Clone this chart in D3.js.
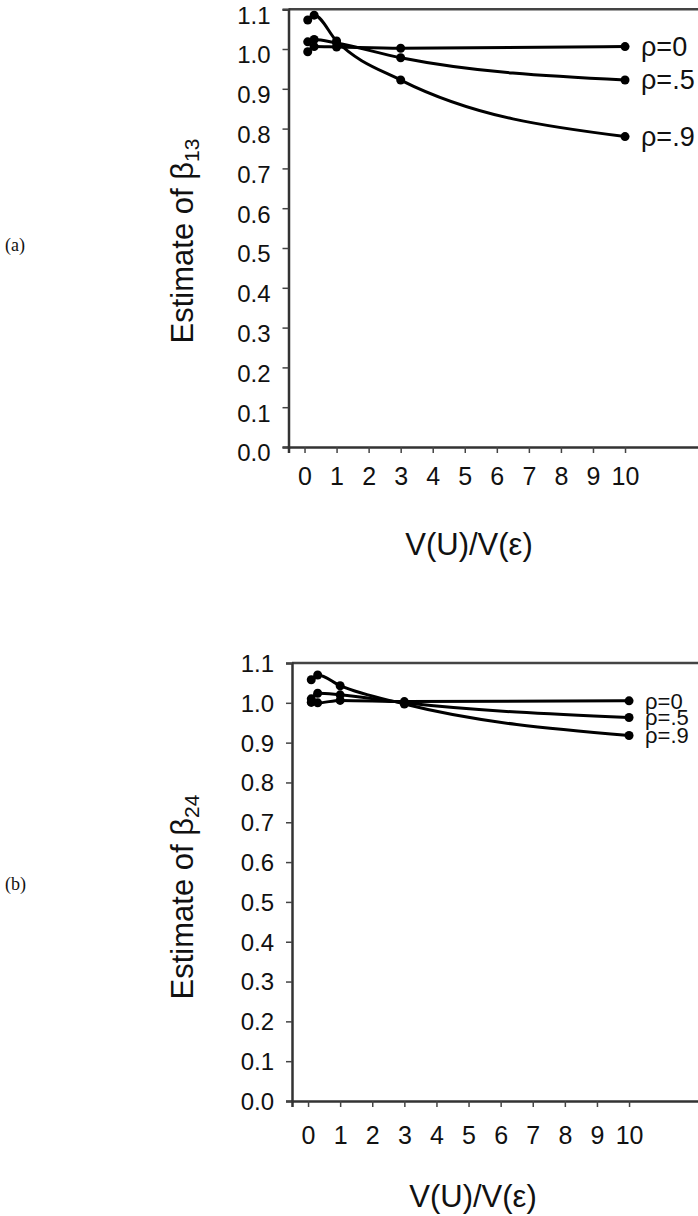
<!DOCTYPE html>
<html>
<head>
<meta charset="utf-8">
<script src="https://cdn.jsdelivr.net/npm/d3@7"></script>
<style>
  body { margin: 0; background: #fff; }
  text { font-family: "Liberation Sans", Arial, sans-serif; fill: #111; }
</style>
</head>
<body>
<div id="chart"></div>
<script>
// x positions where the estimates were taken (variance ratio)
const ratioX = [0.1, 0.3, 1, 3, 10];
const xTicks = [0, 1, 2, 3, 4, 5, 6, 7, 8, 9, 10];
const yTicks = [0, 0.1, 0.2, 0.3, 0.4, 0.5, 0.6, 0.7, 0.8, 0.9, 1.0, 1.1];
const rhoLabels = ["ρ=0", "ρ=.5", "ρ=.9"];

// panel (a): estimate of beta13
const beta13Rho0 = [0.993, 1.006, 1.005, 1.002, 1.006];
const beta13Rho5 = [1.018, 1.024, 1.015, 0.978, 0.922];
const beta13Rho9 = [1.073, 1.085, 1.020, 0.922, 0.780];

// panel (b): estimate of beta24
const beta24Rho0 = [1.001, 1.000, 1.006, 1.003, 1.005];
const beta24Rho5 = [1.010, 1.024, 1.020, 1.000, 0.963];
const beta24Rho9 = [1.058, 1.070, 1.043, 0.997, 0.918];

const W = 698, H = 1216;
const svg = d3.select("#chart").append("svg")
    .attr("width", W)
    .attr("height", H);

function drawPanel(p) {
    const g = svg.append("g");

    const x = d3.scaleLinear().domain([-0.5, 12.5]).range([p.left, p.left + 13 * p.unit]);
    const y = d3.scaleLinear().domain([0, 1.1]).range([p.bottom, p.top]);

    // top border of the frame
    g.append("line")
        .attr("x1", p.left).attr("x2", W + 10)
        .attr("y1", y(1.1)).attr("y2", y(1.1))
        .attr("stroke", "#444").attr("stroke-width", 2.5);

    // y axis
    const yAxis = g.append("g")
        .attr("transform", `translate(${p.left},0)`)
        .call(d3.axisLeft(y).tickValues(yTicks).tickSize(6).tickFormat(d3.format(".1f")));
    yAxis.select(".domain").attr("stroke", "#333").attr("stroke-width", 2.5);
    yAxis.selectAll(".tick line").attr("stroke", "#444").attr("stroke-width", 1.5);
    yAxis.selectAll(".tick text")
        .attr("x", -18)
        .attr("dy", p.yLabelDy)
        .attr("font-size", 24)
        .attr("font-family", "Liberation Sans, Arial, sans-serif")
        .attr("fill", "#111");

    // x axis
    const xAxis = g.append("g")
        .attr("transform", `translate(0,${p.bottom})`)
        .call(d3.axisBottom(x).tickValues(xTicks).tickSize(6).tickFormat(d3.format("d")));
    xAxis.select(".domain").attr("stroke", "#333").attr("stroke-width", 2.5);
    xAxis.selectAll(".tick line").attr("stroke", "#444").attr("stroke-width", 1.5);
    xAxis.selectAll(".tick text")
        .attr("y", p.xLabelY)
        .attr("dy", 0)
        .attr("font-size", 25)
        .attr("font-family", "Liberation Sans, Arial, sans-serif")
        .attr("fill", "#111");

    // series
    const line = d3.line()
        .x((d, i) => x(ratioX[i]))
        .y(d => y(d))
        .curve(d3.curveMonotoneX);

    p.series.forEach((vals, k) => {
        g.append("path")
            .attr("d", line(vals))
            .attr("fill", "none")
            .attr("stroke", "#000")
            .attr("stroke-width", 3);
        g.selectAll(null)
            .data(vals)
            .enter()
            .append("circle")
            .attr("cx", (d, i) => x(ratioX[i]))
            .attr("cy", d => y(d))
            .attr("r", 4.5)
            .attr("fill", "#000");
        g.append("text")
            .attr("x", x(ratioX[ratioX.length - 1]) + 16)
            .attr("y", y(vals[vals.length - 1]))
            .attr("dy", "0.35em")
            .attr("font-size", p.rhoSize)
            .text(rhoLabels[k]);
    });

    // axis titles
    g.append("text")
        .attr("x", p.xTitleX)
        .attr("y", p.xTitleY)
        .attr("text-anchor", "middle")
        .attr("font-size", 31)
        .text("V(U)/V(ε)");

    const yt = g.append("text")
        .attr("transform", `translate(${p.yTitleX},${p.yTitleY}) rotate(-90)`)
        .attr("text-anchor", "middle")
        .attr("dy", "0.35em")
        .attr("font-size", 31);
    yt.append("tspan").text("Estimate of β");
    yt.append("tspan").attr("font-size", 21).attr("dy", "0.3em").text(p.sub);

    // panel tag
    svg.append("text")
        .attr("x", 5)
        .attr("y", p.tagY)
        .style("font-family", "'Liberation Serif', serif")
        .attr("font-size", 18)
        .text(p.tag);
}

drawPanel({
    left: 288.5, unit: 32.05, top: 9.2, bottom: 447,
    yLabelDy: "0.58em", xLabelY: 44 - 6, rhoSize: 27,
    xTitleX: 469, xTitleY: 555,
    yTitleX: 182, yTitleY: 241,
    sub: "13", tag: "(a)", tagY: 251,
    series: [beta13Rho0, beta13Rho5, beta13Rho9]
});

drawPanel({
    left: 292, unit: 32.1, top: 663, bottom: 1101,
    yLabelDy: "0.35em", xLabelY: 49 - 6, rhoSize: 22,
    xTitleX: 473, xTitleY: 1207,
    yTitleX: 182, yTitleY: 897,
    sub: "24", tag: "(b)", tagY: 890,
    series: [beta24Rho0, beta24Rho5, beta24Rho9]
});
</script>
</body>
</html>
